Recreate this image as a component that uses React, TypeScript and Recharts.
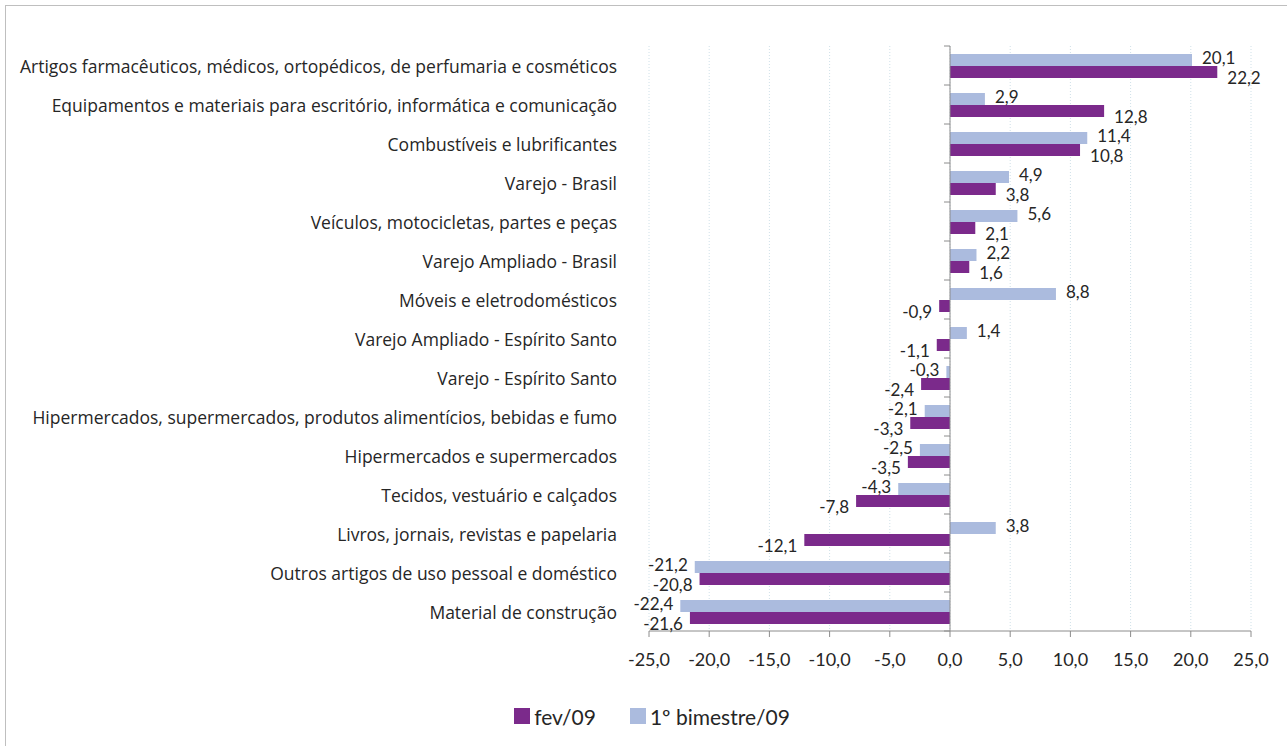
import React from "react";
import {
	BarChart,
	Bar,
	XAxis,
	YAxis,
	CartesianGrid,
	ReferenceLine,
	Legend,
	LabelList,
} from "recharts";

const categories = [
	"Artigos farmacêuticos, médicos, ortopédicos, de perfumaria e cosméticos",
	"Equipamentos e materiais para escritório, informática e comunicação",
	"Combustíveis e lubrificantes",
	"Varejo - Brasil",
	"Veículos, motocicletas, partes e peças",
	"Varejo Ampliado - Brasil",
	"Móveis e eletrodomésticos",
	"Varejo Ampliado - Espírito Santo",
	"Varejo - Espírito Santo",
	"Hipermercados, supermercados, produtos alimentícios, bebidas e fumo",
	"Hipermercados e supermercados",
	"Tecidos, vestuário e calçados",
	"Livros, jornais, revistas e papelaria",
	"Outros artigos de uso pessoal e doméstico",
	"Material de construção",
];

const fev09 = [22.2, 12.8, 10.8, 3.8, 2.1, 1.6, -0.9, -1.1, -2.4, -3.3, -3.5, -7.8, -12.1, -20.8, -21.6];
const bimestre09 = [20.1, 2.9, 11.4, 4.9, 5.6, 2.2, 8.8, 1.4, -0.3, -2.1, -2.5, -4.3, 3.8, -21.2, -22.4];

const xTicks = [-25, -20, -15, -10, -5, 0, 5, 10, 15, 20, 25];

const PURPLE = "#7b2a8b";
const LIGHT = "#abbbde";
const TEXT = "#262626";
const FONT = "Lato, 'Open Sans', sans-serif";
const LABEL_FONT = "'Open Sans', Lato, sans-serif";

// layout
const W = 1287;
const H = 746;
const PLOT_LEFT = 649;
const PLOT_RIGHT = 1251;
const PLOT_TOP = 46;
const PLOT_BOTTOM = 631;
const LEGEND_H = 40;
const MARGIN_BOTTOM = 10;
const Y_AXIS_W = 640;
const ZERO_X = (PLOT_LEFT + PLOT_RIGHT) / 2;
const BAND = (PLOT_BOTTOM - PLOT_TOP) / categories.length;

const data = categories.map((name, i) => ({
	name,
	fev: fev09[i],
	bim: bimestre09[i],
}));

const fmt = (v: number) => v.toFixed(1).replace(".", ",");

const CategoryTick = (props: any) => {
	const { y, payload, index } = props;
	return (
		<g>
			<text
				x={617}
				y={y}
				textAnchor="end"
				dominantBaseline="central"
				fontSize={17.5}
				fontFamily={LABEL_FONT}
				fill={TEXT}
			>
				{payload.value}
			</text>
			<line x1={ZERO_X - 6} x2={ZERO_X} y1={y - BAND / 2} y2={y - BAND / 2} stroke="#8c8c8c" />
			{index === categories.length - 1 && (
				<line x1={ZERO_X - 6} x2={ZERO_X} y1={y + BAND / 2} y2={y + BAND / 2} stroke="#8c8c8c" />
			)}
		</g>
	);
};

const makeLabel = (dy: number) => (props: any) => {
	const { x, y, width, height, value } = props;
	const left = Math.min(x, x + width);
	const right = Math.max(x, x + width);
	const pos = value >= 0;
	return (
		<text
			x={pos ? right + 10 : left - 7}
			y={y + height / 2 + dy}
			textAnchor={pos ? "start" : "end"}
			dominantBaseline="central"
			fontSize={17}
			fontFamily={FONT}
			fill={TEXT}
		>
			{fmt(value)}
		</text>
	);
};

const LegendContent = () => (
	<div
		style={{
			display: "flex",
			justifyContent: "center",
			alignItems: "center",
			paddingLeft: 44,
			fontFamily: FONT,
			fontSize: 21,
			color: TEXT,
			height: LEGEND_H,
		}}
	>
		<span style={{ width: 16, height: 16, background: PURPLE, marginRight: 4 }} />
		<span style={{ marginRight: 34 }}>fev/09</span>
		<span style={{ width: 16, height: 16, background: LIGHT, marginRight: 4 }} />
		<span>1º bimestre/09</span>
	</div>
);

export default function App() {
	return (
		<div
			style={{
				position: "absolute",
				left: 0,
				top: 0,
				width: W,
				height: H,
				overflow: "hidden",
				background: "#fff",
			}}
		>
			<div
				style={{
					position: "absolute",
					left: 5,
					top: 5,
					width: W + 20,
					height: H + 20,
					borderLeft: "1px solid #bfbfbf",
					borderTop: "1px solid #bfbfbf",
				}}
			/>
			<div style={{ position: "absolute", left: 0, top: 0 }}>
				<BarChart
					width={W}
					height={H}
					data={data}
					layout="vertical"
					barSize={12}
					barGap={0}
					margin={{
						top: PLOT_TOP,
						right: W - PLOT_RIGHT,
						left: PLOT_LEFT - Y_AXIS_W,
						bottom: MARGIN_BOTTOM,
					}}
				>
					<CartesianGrid
						horizontal={false}
						stroke="#cfe0e8"
						strokeDasharray="1 2"
					/>
					<XAxis
						type="number"
						domain={[-25, 25]}
						ticks={xTicks}
						tickFormatter={fmt}
						height={H - PLOT_BOTTOM - MARGIN_BOTTOM - LEGEND_H}
						axisLine={{ stroke: "#8c8c8c" }}
						tickLine={{ stroke: "#8c8c8c" }}
						tickSize={6}
						tickMargin={16}
						tick={{ fontSize: 18, fontFamily: FONT, fill: TEXT }}
						interval={0}
					/>
					<YAxis
						type="category"
						dataKey="name"
						width={Y_AXIS_W}
						axisLine={false}
						tickLine={false}
						tick={<CategoryTick />}
						interval={0}
					/>
					<ReferenceLine x={0} stroke="#8c8c8c" />
					<Legend
						verticalAlign="bottom"
						height={LEGEND_H}
						content={<LegendContent />}
					/>
					<Bar dataKey="bim" name="1º bimestre/09" fill={LIGHT} isAnimationActive={false}>
						<LabelList dataKey="bim" content={makeLabel(-3)} />
					</Bar>
					<Bar dataKey="fev" name="fev/09" fill={PURPLE} isAnimationActive={false}>
						<LabelList dataKey="fev" content={makeLabel(5)} />
					</Bar>
				</BarChart>
			</div>
		</div>
	);
}
